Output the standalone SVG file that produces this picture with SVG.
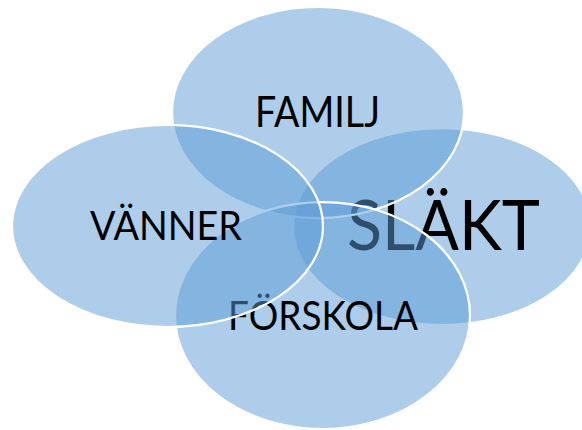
<svg xmlns="http://www.w3.org/2000/svg" width="582" height="430" viewBox="0 0 582 430">
<style>
.c{fill:#5b9bd5;fill-opacity:0.5;stroke:#ffffff;stroke-width:2.25}
.t{font-family:Lato,"Open Sans","Liberation Sans",sans-serif;fill:#000000}
</style>
<rect width="582" height="430" fill="#ffffff"/>
<g id="slakt">
<ellipse class="c" cx="442" cy="226.5" rx="149" ry="98.5"/>
<text class="t" x="347" y="250" font-size="70" textLength="193" lengthAdjust="spacingAndGlyphs">SLÄKT</text>
</g>
<g id="familj">
<ellipse class="c" cx="318" cy="112.5" rx="146" ry="105.5"/>
<text class="t" x="255" y="127" font-size="42" textLength="125" lengthAdjust="spacingAndGlyphs">FAMILJ</text>
</g>
<g id="forskola">
<ellipse class="c" cx="322.5" cy="315.5" rx="147.5" ry="113.5"/>
<text class="t" x="228" y="330" font-size="40" textLength="190" lengthAdjust="spacingAndGlyphs">FÖRSKOLA</text>
</g>
<g id="vanner">
<ellipse class="c" cx="167.5" cy="226" rx="155.5" ry="101"/>
<text class="t" x="90" y="240" font-size="40" textLength="152" lengthAdjust="spacingAndGlyphs">VÄNNER</text>
</g>
</svg>
